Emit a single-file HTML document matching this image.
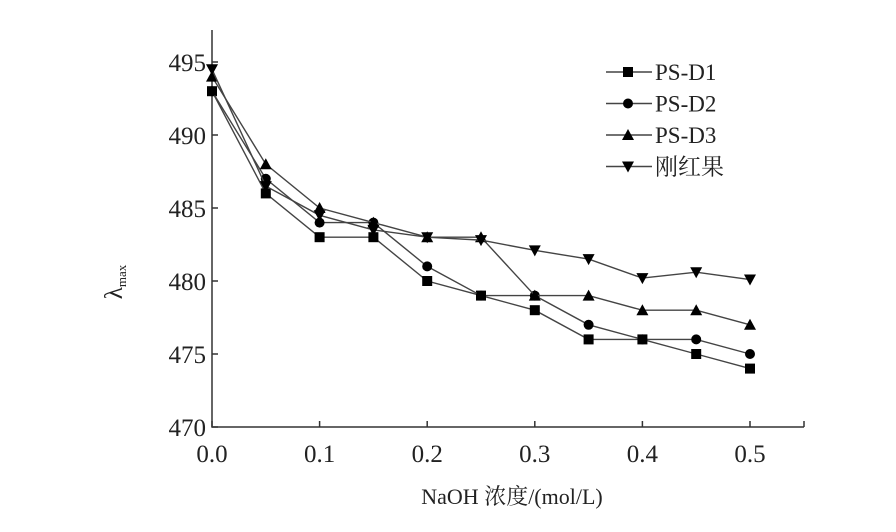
<!DOCTYPE html>
<html><head><meta charset="utf-8"><style>
body{margin:0;background:#fff}
svg{display:block;font-family:"Liberation Serif","Noto Serif CJK SC",serif}
</style></head><body>
<svg id="c" width="896" height="532"></svg>
<script>
const categories=[0,0.05,0.1,0.15,0.2,0.25,0.3,0.35,0.4,0.45,0.5];
const seriesNames=["PS-D1","PS-D2","PS-D3","刚红果"];
const d1=[493,486,483,483,480,479,478,476,476,475,474];
const d2=[493,487,484,484,481,479,479,477,476,476,475];
const d3=[494,488,485,484,483,483,479,479,478,478,477];
const d4=[494.5,486.5,484.5,483.5,483,482.8,482.1,481.5,480.2,480.6,480.1];
const xTicks=["0.0","0.1","0.2","0.3","0.4","0.5"];
const yTicks=[470,475,480,485,490,495];
const NS="http://www.w3.org/2000/svg";
const svg=document.getElementById('c');
const X=v=>212+v*1076;
const Y=v=>427-(v-470)*14.6;
function el(t,a,p){const e=document.createElementNS(NS,t);for(const k in a)e.setAttribute(k,a[k]);(p||svg).appendChild(e);return e;}
const ax=el('path',{d:`M212 30V427H804`,fill:'none',stroke:'#333','stroke-width':1.5});


xTicks.forEach(t=>{const x=X(+t);
const tk=el('line',{x1:x,x2:x,y1:427,y2:421,stroke:'#333','stroke-width':1.5});


const tx=el('text',{x:x,y:462,'text-anchor':'middle','font-size':25,fill:'#222'});tx.textContent=t;

});
{const tk=el('line',{x1:804,x2:804,y1:427,y2:421,stroke:'#333','stroke-width':1.5});

}
yTicks.forEach(t=>{const y=Y(t);
const tk=el('line',{x1:212,x2:218,y1:y,y2:y,stroke:'#333','stroke-width':1.5});


const tx=el('text',{x:206,y:y+9,'text-anchor':'end','font-size':25,fill:'#222'});tx.textContent=t;

});
const yl=el('text',{transform:'translate(122,282) rotate(-90)','text-anchor':'middle','font-size':25,fill:'#222'});
yl.innerHTML='λ<tspan font-size="13" dy="4">max</tspan>';


const xl=el('text',{x:512,y:504,'text-anchor':'middle','font-size':22,fill:'#222'});
xl.textContent='NaOH 浓度/(mol/L)';


function marker(k,x,y,g){
 if(k===0)return el('rect',{x:x-5,y:y-5,width:10,height:10,fill:'#000'},g);
 if(k===1)return el('circle',{cx:x,cy:y,r:5,fill:'#000'},g);
 if(k===2)return el('path',{d:`M${x} ${y-6}L${x+6} ${y+5}L${x-6} ${y+5}Z`,fill:'#000'},g);
 return el('path',{d:`M${x} ${y+6}L${x+6} ${y-5}L${x-6} ${y-5}Z`,fill:'#000'},g);
}
[d1,d2,d3,d4].forEach((s,k)=>{
 const g=el('g',{});
 
 
 el('polyline',{points:s.map((v,i)=>X(categories[i])+','+Y(v)).join(' '),fill:'none',stroke:'#444','stroke-width':1.4},g);
 s.forEach((v,i)=>{const m=marker(k,X(categories[i]),Y(v),g);
 
 });
 const ly=72+k*31.5;
 const lg=el('g',{});
 
 
 el('line',{x1:606,x2:652,y1:ly,y2:ly,stroke:'#444','stroke-width':1.4},lg);
 marker(k,628,ly,lg);
 const t=el('text',{x:655,y:ly+8,'font-size':23,fill:'#222'},lg);t.textContent=seriesNames[k];
});
</script>
</body></html>
